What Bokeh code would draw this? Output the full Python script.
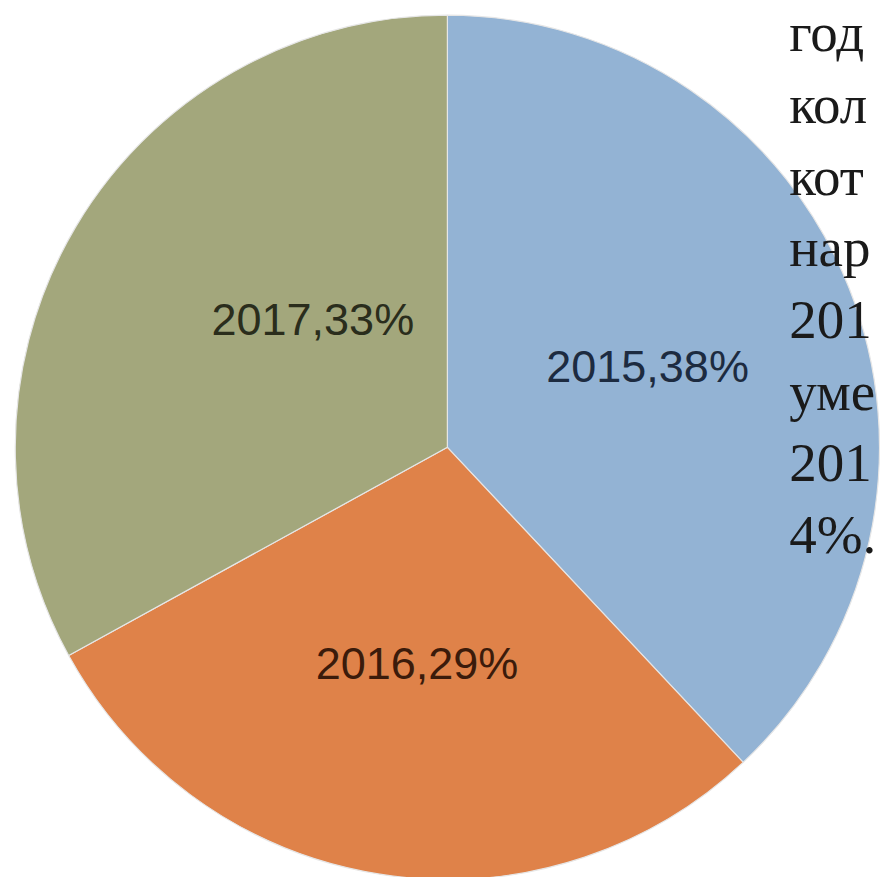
import math
from bokeh.plotting import figure
from bokeh.models import ColumnDataSource, Range1d
from bokeh.core.properties import value
from bokeh.embed import file_html
from bokeh.resources import INLINE

# ---- data ----
years = ["2015", "2016", "2017"]
shares = [38, 29, 33]
colors = ["#93b3d4", "#df8249", "#a3a77c"]
label_colors = ["#1d2b40", "#3b1b0b", "#2a2d1c"]
side_text = ["год", "кол", "кот", "нар", "201", "уме", "201", "4%."]

# ---- layout (reference pixel space 896x893, y flipped) ----
W, H = 880, 877
REF_W, REF_H = 896, 893
cx, cy, R = 455, -455, 440
label_frac = [0.50, 0.505, 0.43]
label_nudge_deg = [0.5, 1.0, -13.0]

total = sum(shares)
starts, ends, mids = [], [], []
a = math.pi / 2
for s in shares:
    sweep = 2 * math.pi * s / total
    starts.append(a - sweep)
    ends.append(a)
    mids.append(a - sweep / 2)
    a -= sweep

p = figure(width=W, height=H, output_backend="svg", toolbar_location=None,
           x_range=Range1d(0, REF_W), y_range=Range1d(-REF_H, 0),
           min_border=0)
p.axis.visible = False
p.grid.visible = False
p.outline_line_color = None
p.background_fill_color = "white"
p.border_fill_color = "white"

src = ColumnDataSource(dict(start=starts, end=ends, color=colors))
p.wedge(x=cx, y=cy, radius=R, start_angle="start", end_angle="end",
        fill_color="color", line_color="#e6e6e6", line_width=1.2, source=src)

lx, ly, lt = [], [], []
for i, (y, s) in enumerate(zip(years, shares)):
    ang = mids[i] + math.radians(label_nudge_deg[i])
    lx.append(cx + label_frac[i] * R * math.cos(ang))
    ly.append(cy + label_frac[i] * R * math.sin(ang))
    lt.append(f"{y},{s}%")
p.text(x=lx, y=ly, text=lt, text_color=label_colors,
       text_font=value("Liberation Sans"), text_font_size="45px",
       text_align="center", text_baseline="middle")

# side paragraph (cut off at right edge in the source image)
tx = [803] * len(side_text)
ty = [-(33 + 73 * i) for i in range(len(side_text))]
p.text(x=tx, y=ty, text=side_text, text_color="#1a1a1a",
       text_font=value("Liberation Serif"), text_font_size="55px",
       text_align="left", text_baseline="alphabetic")

open("out.html", "w").write(file_html(p, INLINE))
